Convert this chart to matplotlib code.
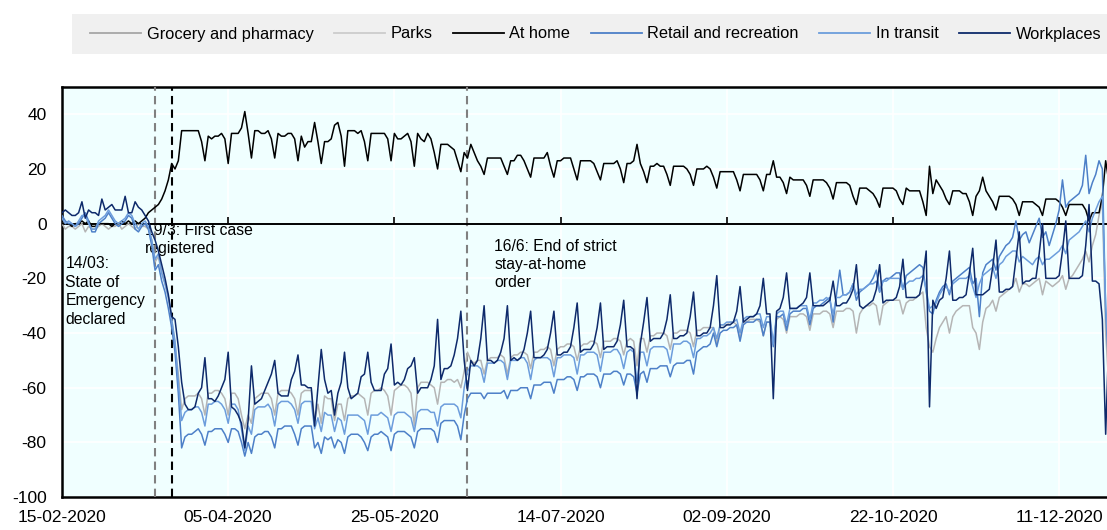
"""
Google mobility trends, 2020 - six place categories vs baseline (%).
Daily values read off the reference chart, one row per week (Sat..Fri).
"""

import pandas as pd
import matplotlib.pyplot as plt
import matplotlib.dates as mdates
from matplotlib.lines import Line2D
from matplotlib.patches import Rectangle

plt.rcParams['font.family'] = ['Liberation Sans', 'DejaVu Sans']
plt.rcParams['font.size'] = 12
plt.rcParams['axes.unicode_minus'] = False

start = '2020-02-15'

# ─────────────────────────────────────────────
# Data (percent change from baseline), weeks start on Saturday
# ─────────────────────────────────────────────
at_home = [
    0, 0, 0, -1, 0, 0, 1,
    0, 1, -1, -1, 0, 0, 0,
    0, -1, 0, 0, 1, 0, 1,
    0, 1, 0, 1, 2, 4, 5,
    6, 7, 9, 12, 16, 22, 20,
    23, 34, 34, 34, 34, 34, 34,
    30, 23, 32, 31, 32, 32, 33,
    31, 22, 33, 33, 33, 35, 41,
    33, 24, 34, 34, 33, 33, 34,
    31, 24, 33, 32, 32, 33, 33,
    31, 23, 32, 28, 30, 30, 37,
    30, 22, 30, 30, 31, 36, 37,
    32, 21, 34, 34, 34, 33, 34,
    30, 23, 33, 33, 33, 33, 33,
    31, 23, 33, 31, 31, 32, 33,
    30, 21, 33, 31, 30, 33, 31,
    26, 20, 29, 29, 29, 28, 27,
    23, 19, 26, 24, 29, 26, 23,
    21, 18, 24, 24, 24, 24, 24,
    21, 18, 23, 23, 25, 25, 23,
    20, 17, 24, 24, 24, 24, 26,
    21, 17, 23, 23, 24, 24, 24,
    20, 16, 23, 23, 23, 23, 22,
    19, 16, 22, 22, 22, 22, 23,
    20, 15, 22, 22, 23, 29, 22,
    19, 15, 21, 21, 22, 21, 21,
    18, 14, 21, 21, 21, 21, 20,
    18, 14, 20, 20, 20, 21, 20,
    17, 13, 19, 19, 19, 19, 19,
    16, 12, 18, 18, 18, 18, 18,
    16, 12, 18, 18, 23, 17, 17,
    15, 11, 17, 16, 16, 16, 16,
    14, 10, 16, 16, 16, 16, 15,
    13, 9, 15, 15, 15, 15, 14,
    10, 7, 13, 13, 13, 12, 11,
    9, 6, 13, 13, 13, 13, 12,
    9, 7, 13, 12, 12, 12, 12,
    8, 3, 21, 11, 16, 14, 12,
    9, 7, 12, 12, 12, 11, 11,
    8, 3, 10, 12, 17, 12, 10,
    8, 5, 10, 10, 10, 10, 9,
    7, 3, 8, 8, 8, 8, 7,
    6, 3, 9, 9, 9, 9, 8,
    6, 3, 7, 7, 7, 7, 7,
    5, 1, 4, 4, 4, 10, 23,
    15,
]

workplaces = [
    4, 5, 4, 3, 3, 4, 8,
    2, 5, 4, 4, 3, 9, 5,
    6, 7, 5, 5, 5, 10, 4,
    4, 8, 6, 5, 3, 1, -3,
    -6, -10, -15, -20, -26, -34, -35,
    -45, -58, -66, -68, -68, -67, -62,
    -60, -49, -64, -64, -65, -63, -60,
    -57, -47, -67, -68, -70, -73, -82,
    -72, -52, -66, -65, -64, -61, -58,
    -55, -50, -62, -63, -63, -63, -57,
    -54, -48, -59, -59, -60, -60, -74,
    -60, -46, -57, -62, -61, -70, -62,
    -58, -47, -60, -64, -63, -62, -56,
    -55, -47, -58, -61, -61, -61, -55,
    -53, -44, -59, -58, -59, -57, -53,
    -52, -49, -62, -60, -60, -60, -57,
    -52, -35, -57, -53, -53, -52, -48,
    -42, -32, -50, -61, -50, -52, -50,
    -42, -30, -50, -50, -51, -50, -47,
    -42, -30, -50, -49, -50, -49, -46,
    -40, -32, -49, -49, -49, -48, -46,
    -40, -32, -48, -48, -47, -47, -45,
    -38, -29, -47, -46, -46, -46, -44,
    -38, -29, -46, -45, -45, -45, -43,
    -37, -28, -45, -45, -46, -64, -44,
    -36, -27, -43, -42, -42, -42, -40,
    -35, -26, -42, -42, -41, -41, -40,
    -34, -25, -41, -41, -40, -40, -38,
    -30, -19, -38, -38, -37, -37, -36,
    -32, -23, -36, -35, -34, -34, -33,
    -30, -20, -33, -33, -64, -32, -31,
    -27, -18, -31, -31, -31, -30, -29,
    -27, -18, -30, -30, -30, -30, -29,
    -28, -21, -30, -30, -29, -29, -27,
    -24, -15, -30, -31, -30, -29, -28,
    -24, -15, -29, -28, -28, -28, -27,
    -23, -13, -27, -27, -27, -27, -26,
    -20, -10, -67, -28, -31, -28, -27,
    -20, -10, -28, -28, -27, -27, -26,
    -18, -9, -26, -26, -26, -25, -24,
    -16, -6, -25, -25, -24, -24, -23,
    -13, -3, -22, -21, -21, -20, -20,
    -11, 0, -20, -20, -20, -20, -19,
    -10, 1, -20, -20, -20, -20, -19,
    -8, 7, -21, -21, -22, -35, -77,
    -40,
]

grocery = [
    0, -2, -1, -1, -2, -1, 0,
    -3, -1, -2, -2, -1, 0, -1,
    -2, -1, -1, 0, -2, -1, 0,
    -1, -2, 0, -1, -1, -2, -6,
    -14, -12, -18, -22, -27, -35, -44,
    -55, -68, -64, -63, -63, -63, -62,
    -64, -70, -62, -62, -61, -61, -62,
    -64, -70, -62, -62, -64, -70, -75,
    -70, -73, -64, -63, -62, -62, -62,
    -64, -70, -62, -61, -61, -61, -62,
    -64, -70, -62, -61, -61, -61, -72,
    -66, -73, -63, -64, -64, -72, -66,
    -66, -72, -64, -63, -63, -62, -63,
    -64, -70, -62, -61, -61, -60, -61,
    -63, -70, -61, -60, -59, -59, -60,
    -62, -74, -60, -58, -58, -58, -59,
    -60, -66, -58, -58, -57, -57, -58,
    -57, -60, -54, -47, -50, -51, -50,
    -50, -55, -50, -49, -49, -49, -48,
    -49, -55, -49, -48, -48, -47, -47,
    -48, -53, -47, -47, -46, -46, -45,
    -46, -52, -46, -45, -45, -44, -44,
    -45, -50, -45, -44, -44, -43, -43,
    -44, -49, -43, -43, -43, -42, -42,
    -43, -48, -43, -42, -43, -52, -42,
    -42, -47, -41, -41, -40, -40, -40,
    -41, -46, -40, -40, -39, -39, -39,
    -40, -45, -39, -39, -38, -38, -38,
    -38, -44, -37, -37, -37, -36, -36,
    -37, -42, -36, -36, -35, -35, -35,
    -36, -41, -36, -36, -44, -35, -34,
    -35, -40, -34, -34, -34, -33, -33,
    -34, -39, -33, -33, -33, -32, -32,
    -33, -38, -32, -32, -32, -31, -31,
    -32, -40, -33, -31, -30, -30, -29,
    -30, -37, -30, -29, -28, -28, -28,
    -28, -33, -29, -28, -28, -27, -26,
    -25, -38, -45, -47, -42, -38, -36,
    -34, -40, -34, -32, -31, -30, -30,
    -30, -38, -40, -46, -36, -31, -30,
    -28, -32, -27, -26, -25, -24, -23,
    -20, -25, -22, -22, -23, -22, -21,
    -20, -26, -21, -22, -23, -22, -21,
    -19, -24, -20, -19, -17, -15, -13,
    -10, -14, -8, -4, 3, 8, -40,
    -60,
]

retail = [
    3, 1, 0, 0, -1, 0, 2,
    4, 1, -3, -3, 0, 1, 2,
    4, 2, 0, -1, 0, 1, 3,
    2, -2, -3, -1, 0, -2, -8,
    -17, -15, -21, -25, -31, -38, -47,
    -62, -82, -78, -77, -77, -76, -75,
    -77, -81, -76, -76, -75, -75, -75,
    -77, -80, -75, -75, -76, -80, -85,
    -80, -84, -78, -77, -77, -76, -76,
    -78, -82, -75, -75, -74, -74, -74,
    -77, -81, -75, -74, -74, -74, -82,
    -80, -84, -78, -79, -78, -82, -79,
    -80, -84, -78, -77, -77, -77, -78,
    -80, -83, -78, -77, -77, -76, -77,
    -78, -83, -77, -76, -76, -76, -77,
    -78, -82, -76, -75, -75, -75, -75,
    -76, -80, -73, -72, -72, -72, -72,
    -74, -79, -70, -64, -62, -62, -62,
    -62, -64, -62, -62, -62, -62, -62,
    -61, -64, -61, -61, -61, -60, -60,
    -60, -64, -59, -59, -59, -58, -58,
    -58, -62, -57, -57, -57, -56, -56,
    -57, -61, -56, -56, -55, -55, -55,
    -56, -60, -55, -55, -55, -54, -54,
    -55, -59, -55, -55, -56, -62, -55,
    -54, -58, -53, -53, -53, -52, -52,
    -52, -56, -52, -51, -51, -51, -50,
    -50, -55, -47, -46, -45, -45, -44,
    -40, -45, -40, -39, -39, -38, -38,
    -37, -43, -37, -36, -36, -36, -35,
    -35, -41, -36, -36, -45, -34, -34,
    -33, -39, -33, -32, -32, -32, -31,
    -31, -37, -31, -30, -30, -29, -28,
    -27, -36, -26, -17, -26, -26, -25,
    -22, -28, -25, -24, -23, -22, -20,
    -17, -25, -21, -20, -20, -19, -18,
    -18, -24, -19, -18, -17, -16, -15,
    -16, -25, -32, -33, -28, -25, -23,
    -22, -26, -21, -20, -19, -18, -17,
    -16, -22, -20, -34, -18, -15, -14,
    -13, -17, -12, -10, -8, -7, -5,
    1, -6, -4, -3, -7, -4, -1,
    2, -5, -3, -8, -4, 0, 5,
    16, 6, 8, 9, 10, 11, 14,
    25, 11, 15, 18, 23, 20, -32,
    -55,
]

transit = [
    2, 0, 1, 0, -1, 1, 3,
    3, 0, -2, -2, 1, 2, 3,
    5, 3, 1, 0, 1, 2, 4,
    3, 0, -2, 0, 1, -1, -6,
    -13, -11, -18, -22, -27, -35, -43,
    -58, -72, -69, -68, -68, -67, -67,
    -69, -74, -66, -66, -65, -65, -66,
    -68, -73, -66, -66, -68, -75, -83,
    -74, -77, -68, -67, -67, -67, -66,
    -68, -74, -66, -65, -65, -65, -66,
    -68, -73, -66, -65, -65, -65, -75,
    -71, -76, -69, -70, -70, -76, -71,
    -72, -77, -70, -70, -70, -70, -71,
    -72, -77, -70, -70, -70, -69, -70,
    -71, -76, -70, -69, -69, -69, -70,
    -71, -76, -69, -68, -68, -68, -69,
    -69, -74, -67, -66, -66, -66, -66,
    -67, -71, -60, -54, -52, -52, -52,
    -53, -58, -51, -51, -51, -50, -50,
    -51, -57, -50, -50, -50, -49, -49,
    -51, -57, -50, -49, -49, -49, -49,
    -50, -56, -49, -49, -48, -48, -48,
    -49, -55, -48, -48, -47, -47, -47,
    -48, -54, -47, -47, -47, -46, -46,
    -48, -53, -47, -46, -47, -58, -47,
    -47, -52, -46, -45, -45, -45, -45,
    -46, -51, -44, -44, -44, -43, -43,
    -44, -49, -42, -42, -41, -41, -40,
    -38, -42, -37, -37, -36, -36, -36,
    -35, -40, -35, -34, -34, -34, -33,
    -33, -38, -34, -34, -44, -33, -32,
    -32, -37, -31, -31, -31, -30, -30,
    -30, -35, -29, -29, -28, -28, -27,
    -28, -33, -27, -27, -26, -26, -25,
    -22, -26, -24, -24, -23, -22, -22,
    -21, -25, -21, -21, -20, -20, -20,
    -20, -24, -22, -21, -21, -20, -20,
    -19, -24, -31, -30, -29, -26, -24,
    -23, -25, -22, -21, -20, -20, -20,
    -19, -23, -27, -22, -19, -18, -17,
    -16, -20, -15, -14, -12, -11, -10,
    -10, -14, -12, -13, -14, -15, -13,
    -12, -15, -13, -13, -12, -11, -10,
    -8, -11, -6, -5, -4, -3, -1,
    1, -3, 2, 5, 8, 10, -30,
    -50,
]

parks = []   # shown in the legend only

events = ['2020-03-14', '2020-03-19', '2020-06-16']
event_colors = ['#808080', '#000000', '#808080']
tick_dates = ['2020-02-15', '2020-04-05', '2020-05-25', '2020-07-14',
              '2020-09-02', '2020-10-22', '2020-12-11']

dates = pd.date_range(start, periods=len(at_home), freq='D')


def main():
    fig = plt.figure(figsize=(11.07, 5.30), dpi=100)
    ax = fig.add_axes([0.056, 0.062, 0.944, 0.774])
    ax.set_facecolor('#f0ffff')

    series = [
        ('Grocery and pharmacy', grocery, '#b5b5b5', '#a6a6a6'),
        ('Parks', parks, '#d3d3d3', '#cccccc'),
        ('At home', at_home, '#000000', '#000000'),
        ('Retail and recreation', retail, '#4d80c8', '#4d80c8'),
        ('In transit', transit, '#6c9ddc', '#6c9ddc'),
        ('Workplaces', workplaces, '#0e2a6b', '#0e2a6b'),
    ]
    handles = []
    for name, vals, col, leg_col in series:
        if vals:
            ax.plot(dates[:len(vals)], vals, color=col, lw=1.1, zorder=4)
        handles.append(Line2D([], [], color=leg_col, lw=1.3, label=name))

    # event markers
    for ev, col in zip(events, event_colors):
        ax.axvline(pd.Timestamp(ev), color=col, lw=1.5,
                   dashes=(4, 2.5), zorder=3)

    ax.axhline(0, color='black', lw=1.4, zorder=3)
    ticks = pd.to_datetime(tick_dates)
    ax.vlines(ticks, 0, 2.5, color='black', lw=1.2, zorder=3)

    ax.set_ylim(-100, 50)
    ax.set_yticks(range(-100, 41, 20))
    ax.set_xlim(pd.Timestamp(start), pd.Timestamp(start) + pd.Timedelta(days=314.4))
    ax.set_xticks(ticks)
    ax.xaxis.set_major_formatter(mdates.DateFormatter('%d-%m-%Y'))
    ax.grid(True, color='white', lw=1.2, zorder=0)
    ax.set_axisbelow(True)
    ax.tick_params(length=0, labelsize=12.5)
    ax.tick_params(axis='x', pad=9)
    ax.tick_params(axis='y', pad=11)
    for s in ['left', 'top', 'bottom']:
        ax.spines[s].set_linewidth(1.8)
    ax.spines['right'].set_visible(False)

    # annotations (under the lines)
    note_kw = dict(va='top', ha='left', linespacing=1.28, zorder=2, fontsize=11.3)
    ax.text(pd.Timestamp('2020-02-16'), -12,
            '14/03:\nState of\nEmergency\ndeclared', **note_kw)
    ax.text(pd.Timestamp('2020-03-11'), 0.3, '19/3: First case\nregistered',
            **note_kw)
    ax.text(pd.Timestamp('2020-06-24'), -5.5,
            '16/6: End of strict\nstay-at-home\norder', **note_kw)

    # legend: grey band across the top
    fig.patches.append(Rectangle((72 / 1107, 1 - 54 / 530), 1 - 72 / 1107, 40 / 530,
                                 transform=fig.transFigure, facecolor='#f0f0f0',
                                 edgecolor='none', zorder=0))
    fig.legend(handles=handles, loc='center left', ncol=6,
               bbox_to_anchor=(90 / 1107, 1 - 34 / 530),
               frameon=False, fontsize=11.8,
               handlelength=3.1, handletextpad=0.35, columnspacing=1.25,
               borderaxespad=0, borderpad=0)

    fig.savefig('out.png', dpi=100)


if __name__ == '__main__':
    main()
